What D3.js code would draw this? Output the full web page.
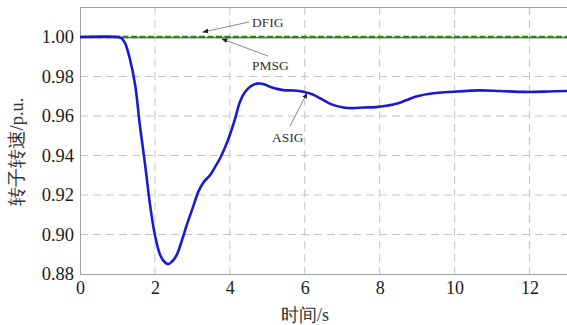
<!DOCTYPE html>
<html><head><meta charset="utf-8">
<script src="https://cdn.jsdelivr.net/npm/d3@7"></script>
<style>body{margin:0;background:#fff}svg{display:block}</style>
</head><body><svg id="c" width="567" height="325"></svg>
<script>
const timeS = [0, 1.0, 1.1, 1.2, 1.33, 1.47, 1.6, 1.74, 1.87, 2.0, 2.14, 2.25, 2.35, 2.45, 2.58, 2.72, 2.85, 3.0, 3.16, 3.3, 3.47, 3.6, 3.74, 3.87, 4.0, 4.13, 4.27, 4.4, 4.54, 4.68, 4.79, 4.93, 5.07, 5.25, 5.43, 5.7, 5.96, 6.2, 6.41, 6.7, 7.03, 7.3, 7.56, 7.9, 8.18, 8.5, 8.72, 9.0, 9.43, 9.97, 10.68, 11.2, 11.9, 12.5, 13.0];
const asig = [1.0, 1.0, 0.9995, 0.997, 0.989, 0.976, 0.955, 0.935, 0.915, 0.8997, 0.8896, 0.8862, 0.8850, 0.8862, 0.8896, 0.897, 0.9048, 0.913, 0.9217, 0.9265, 0.930, 0.934, 0.9386, 0.944, 0.9504, 0.958, 0.9672, 0.972, 0.9748, 0.9762, 0.9765, 0.976, 0.9748, 0.9738, 0.9731, 0.9729, 0.9723, 0.971, 0.969, 0.966, 0.9643, 0.964, 0.9643, 0.9645, 0.9652, 0.9665, 0.9681, 0.970, 0.9715, 0.9723, 0.973, 0.9727, 0.9722, 0.9724, 0.9727];
const flatTime = [0, 13];
const dfig = [1.0, 1.0];
const pmsg = [1.0, 1.0];
const xTicks = [0, 2, 4, 6, 8, 10, 12];
const yTicks = [0.88, 0.90, 0.92, 0.94, 0.96, 0.98, 1.00];
const xLabel = "时间/s";
const yLabel = "转子转速/p.u.";
const notes = [
  {name: "DFIG", t: 3.28, v: 1.0025, lx: 249, ly: 22, tx: 252, ty: 27},
  {name: "PMSG", t: 3.79, v: 0.9990, lx: 268, ly: 56, tx: 252, ty: 70},
  {name: "ASIG", t: 6.06, v: 0.9716, lx: 290, ly: 126, tx: 272, ty: 142}
];

const svg = d3.select("#c");
const L = 80, R = 567, T = 7, B = 274;
const x = d3.scaleLinear().domain([0, 13]).range([L, R]);
const y = d3.scaleLinear().domain([0.88, 1.0152]).range([B, T]);
const font = '"Liberation Serif"';

const g = svg.append("g");
g.selectAll(".vg").data(xTicks.filter(d => d > 0)).join("line")
  .attr("x1", d => x(d)).attr("x2", d => x(d)).attr("y1", T).attr("y2", B)
  .attr("stroke", "#c4c4c4").attr("stroke-width", 1).attr("stroke-dasharray", "8,5");
g.selectAll(".hg").data(yTicks.filter(d => d > 0.88)).join("line")
  .attr("x1", L).attr("x2", R).attr("y1", d => y(d)).attr("y2", d => y(d))
  .attr("stroke", "#c4c4c4").attr("stroke-width", 1).attr("stroke-dasharray", "8,5");

svg.append("line").attr("x1", L).attr("x2", R).attr("y1", T + 0.5).attr("y2", T + 0.5).attr("stroke", "#a0a0a0");
svg.append("line").attr("x1", L).attr("x2", R).attr("y1", B + 0.5).attr("y2", B + 0.5).attr("stroke", "#a0a0a0");
svg.append("line").attr("x1", L + 0.5).attr("x2", L + 0.5).attr("y1", T).attr("y2", B).attr("stroke", "#a0a0a0");

const xa = svg.append("g").attr("transform", `translate(0,${B})`)
  .call(d3.axisBottom(x).tickValues(xTicks).tickSize(0).tickPadding(7).tickFormat(d3.format("d")));
xa.attr("font-family", null).attr("font-size", null);
xa.select(".domain").remove();
xa.selectAll("text").style("font-family", font).style("font-size", "18px").attr("fill", "#1a1a1a");
const ya = svg.append("g").attr("transform", `translate(${L},0)`)
  .call(d3.axisLeft(y).tickValues(yTicks).tickSize(0).tickPadding(6).tickFormat(d3.format(".2f")));
ya.attr("font-family", null).attr("font-size", null);
ya.select(".domain").remove();
ya.selectAll("text").style("font-family", font).style("font-size", "18.5px").attr("fill", "#1a1a1a");

svg.append("text").attr("x", 305).attr("y", 321).attr("text-anchor", "middle")
  .style("font-family", font).style("font-size", "18px").attr("fill", "#333").text(xLabel);
svg.append("text").attr("transform", "translate(23,152) rotate(-90)").attr("text-anchor", "middle")
  .style("font-family", font).style("font-size", "18.5px").attr("fill", "#333").text(yLabel);

const line = d3.line().x(d => x(d[0])).y(d => y(d[1]));
const lineC = d3.line().x(d => x(d[0])).y(d => y(d[1])).curve(d3.curveCatmullRom.alpha(0.5));
svg.append("clipPath").attr("id", "cp").append("rect").attr("x", L).attr("y", T).attr("width", R - L).attr("height", B - T);
const plot = svg.append("g").attr("clip-path", "url(#cp)");
plot.append("path").datum(flatTime.map((t, i) => [t, pmsg[i]])).attr("d", line)
  .attr("fill", "none").attr("stroke", "#e8321e").attr("stroke-width", 1.2).attr("transform", "translate(0,0.6)");
plot.append("path").datum(flatTime.map((t, i) => [t, dfig[i]])).attr("d", line)
  .attr("fill", "none").attr("stroke", "#1f8a1f").attr("stroke-width", 2.4).attr("stroke-dasharray", "6,2.5");
plot.append("path").datum(timeS.map((t, i) => [t, asig[i]])).attr("d", lineC)
  .attr("fill", "none").attr("stroke", "#1a1ad6").attr("stroke-width", 2.6).attr("stroke-linejoin", "round");

svg.append("defs").append("marker").attr("id", "ah").attr("viewBox", "0 0 10 10").attr("refX", 9).attr("refY", 5)
  .attr("markerWidth", 6).attr("markerHeight", 6).attr("orient", "auto")
  .append("path").attr("d", "M0,1 L10,5 L0,9 Z").attr("fill", "#222");
notes.forEach(n => {
  svg.append("line").attr("x1", n.lx).attr("y1", n.ly).attr("x2", x(n.t)).attr("y2", y(n.v))
    .attr("stroke", "#8a8a8a").attr("stroke-width", 1).attr("marker-end", "url(#ah)");
  svg.append("text").attr("x", n.tx).attr("y", n.ty).style("font-family", font).style("font-size", "13.5px")
    .attr("fill", "#333").text(n.name);
});
</script></body></html>
